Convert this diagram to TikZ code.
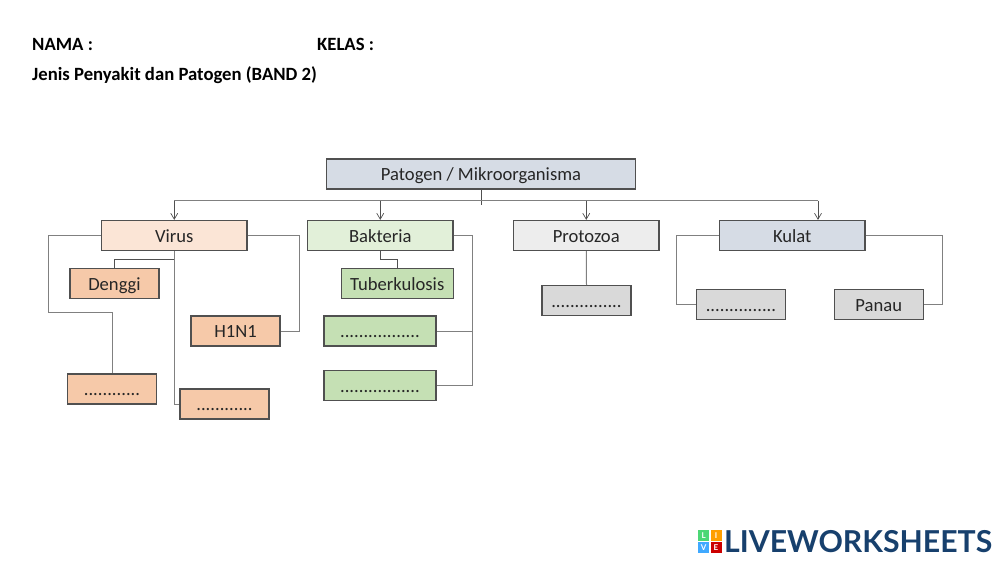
\documentclass[tikz,border=0pt]{standalone}
\usepackage{fontspec}
\setmainfont{Carlito}
\newfontfamily\logofont{Lato}
\usetikzlibrary{arrows.meta}
\definecolor{edge}{HTML}{505050}
\definecolor{wire}{HTML}{808080}
\definecolor{bluegrey}{HTML}{D6DCE5}
\definecolor{peachlight}{HTML}{FBE5D6}
\definecolor{peach}{HTML}{F6C9A9}
\definecolor{greenlight}{HTML}{E2F0D9}
\definecolor{greenmid}{HTML}{C5E0B4}
\definecolor{greylight}{HTML}{EDEDED}
\definecolor{greymid}{HTML}{D9D9D9}
\definecolor{navy}{HTML}{17406D}
\tikzset{
  box/.style={draw=edge,line width=1.2pt,inner sep=0pt,text height=13.5pt,text depth=0pt,font=\fontsize{18.6}{21}\selectfont,text=black!85},
  head/.style={box,minimum width=145.5pt,minimum height=30pt},
  leaf/.style={box,minimum width=89pt,minimum height=30pt},
  wideleaf/.style={box,minimum width=112pt,minimum height=30pt},
  wire/.style={draw=wire,line width=1pt},
  darkwire/.style={draw=edge,line width=1pt},
  drop/.style={draw=edge,line width=.7pt,-{Straight Barb[length=6pt,width=7pt]}},
  title/.style={inner sep=0pt,anchor=base west,font=\fontsize{18.7}{21}\selectfont\bfseries,text=black},
  tile/.style={inner sep=0pt,minimum size=11pt,text=white,font=\logofont\fontsize{8}{9}\selectfont\bfseries}
}
\begin{document}
\begin{tikzpicture}[x=1pt,y=-1pt]
\useasboundingbox (0,0) rectangle (1000,562);
\node[title] (nama) at (32,50) {NAMA :};
\node[title] (kelas) at (317,50) {KELAS :};
\node[title] (jenis) at (32,80) {Jenis Penyakit dan Patogen (BAND 2)};

\node[box,fill=bluegrey,minimum width=309pt,minimum height=30pt] (root) at (481,174) {Patogen / Mikroorganisma};
\node[head,fill=peachlight] (virus) at (174.25,235.5) {Virus};
\node[head,fill=greenlight] (bakteria) at (380.25,235.5) {Bakteria};
\node[head,fill=greylight] (protozoa) at (586.25,235.5) {Protozoa};
\node[head,fill=bluegrey] (kulat) at (792.25,235.5) {Kulat};

\node[leaf,fill=peach] (denggi) at (114.5,283.25) {Denggi};
\node[leaf,fill=peach] (h1n1) at (235.5,331) {H1N1};
\node[leaf,fill=peach] (vdotsa) at (112,389) {............};
\node[leaf,fill=peach] (vdotsb) at (224.5,404) {............};

\node[wideleaf,fill=greenmid] (tb) at (397.25,283.25) {Tuberkulosis};
\node[wideleaf,fill=greenmid] (bdotsa) at (380,331) {.................};
\node[wideleaf,fill=greenmid] (bdotsb) at (380,385.25) {.................};

\node[leaf,fill=greymid] (pdots) at (586.5,300.75) {...............};
\node[leaf,fill=greymid] (kdots) at (741,304.75) {...............};
\node[leaf,fill=greymid] (panau) at (878.75,304.75) {Panau};

\coordinate (stem) at (481,204.5);
\coordinate (barleft) at (174.25,200.5);
\coordinate (barright) at (818,200.5);
\draw[darkwire,line width=.8pt] (root.south) -- (stem);
\draw[wire] (barleft) -- (barright);
\draw[drop] (barleft) -- (virus.north);
\draw[drop] (bakteria.north |- barleft) -- (bakteria.north);
\draw[drop] (protozoa.north |- barleft) -- (protozoa.north);
\draw[drop] (barright) -- (barright |- kulat.north);

\draw[wire] (virus.west) -- (48,235.5) -- (48,312.5) -| (vdotsa.north);
\draw[darkwire] (virus.south) -- (174.25,259.5) -| (denggi.north);
\draw[wire] (virus.south) |- (vdotsb.west);
\draw[wire] (virus.east) -- (299.5,235.5) |- (h1n1.east);

\draw[darkwire] (bakteria.south) -- (380.25,259.5) -| (tb.north);
\draw[wire] (bakteria.east) -- (472,235.5) |- (bdotsb.east);
\draw[wire] (472,331) -- (bdotsa.east);

\draw[wire] (protozoa.south) -- (pdots.north);
\draw[wire] (kulat.west) -- (676.5,235.5) |- (kdots.west);
\draw[wire] (kulat.east) -- (942.5,235.5) |- (panau.east);

\node[tile,fill=green!55!teal!70!white] (tl) at (703.75,535.75) {L};
\node[tile,fill=orange!75!yellow] (ti) at (716,535.75) {I};
\node[tile,fill=blue!45!cyan!75!white] (tv) at (703.75,547.5) {V};
\node[tile,fill=red!80!black] (te) at (716,547.5) {E};
\node[inner sep=0pt,anchor=base west,text=navy] (logo) at (724,552.5) {\logofont\fontsize{30.2}{34}\selectfont\bfseries LIVEWORKSHEETS};
\end{tikzpicture}
\end{document}
